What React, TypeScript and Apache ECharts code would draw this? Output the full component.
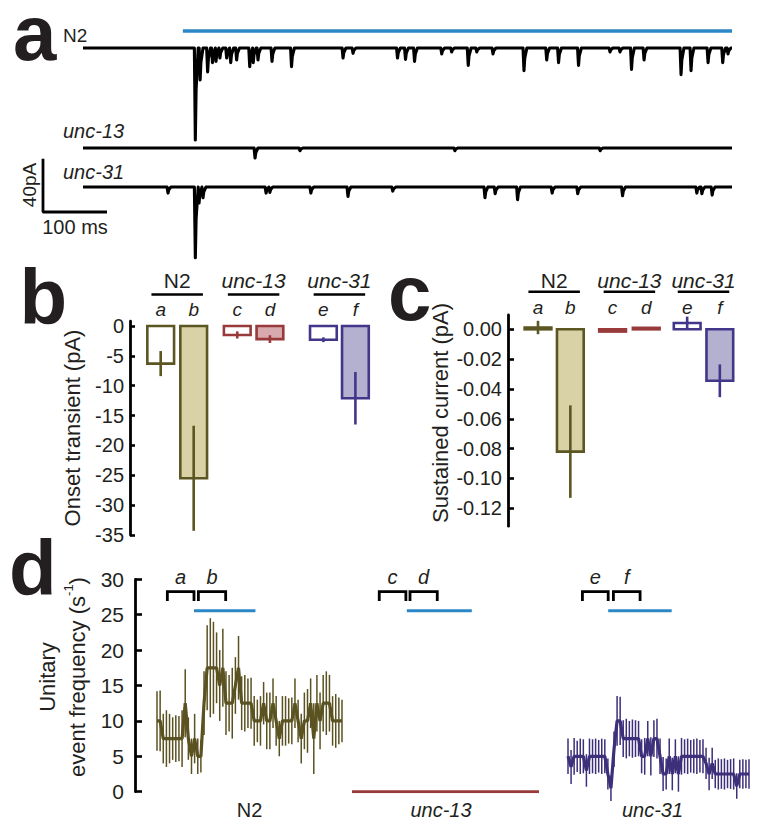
import React, { useEffect, useRef } from 'react';
import * as echarts from 'echarts';

// ---------------- data ----------------
const BAR_LETTERS = ['a', 'b', 'c', 'd', 'e', 'f'];
const GENOTYPES = ['N2', 'unc-13', 'unc-31'];

// panel b: onset transient (pA)
const ONSET_MEAN = [-6.3, -25.5, -1.5, -2.2, -2.3, -12.1];
const ONSET_SEM = [2.1, 8.8, 0.6, 0.65, 0.4, 4.4];
// panel c: sustained current (pA)
const SUSTAINED_MEAN = [0.0012, -0.082, -0.0015, 0.001, 0.0042, -0.0345];
const SUSTAINED_SEM = [0.0045, 0.031, 0, 0, 0.0043, 0.011];

// panel a: recorded traces as events [time ms, amplitude pA]
const N2_EVENTS = [
  [175.5, -69], [183, -24], [194.7, -18], [202.3, -11], [207.8, -10], [213.9, -7.5], [224.5, -7.5],
  [230.8, -11], [240, -9], [260.5, -14], [266, -11], [273.4, -9], [295.3, -10], [325.8, -14],
  [406.3, -7.5], [421.9, -4], [491.4, -7.5], [503.9, -8.5], [518, -10], [560.5, -4.5], [576, -3],
  [601.9, -13], [615.2, -3], [640.6, -4.5], [689, -17], [724.5, -9], [743, -11], [774.2, -13],
  [823.4, -3], [839, -3], [857, -16], [876.6, -9], [934.4, -20], [950, -17], [976.6, -11],
  [999.5, -11], [1007.8, -4.5],
];
const UNC13_EVENTS = [[268.8, -7.5], [339, -2], [581, -2], [808, -2]];
const UNC31_EVENTS = [
  [132.8, -4.5], [175.5, -53], [181.3, -12], [187.5, -8], [286, -4.5], [292, -4], [356, -4.5],
  [414, -7], [484, -3], [628, -8], [644, -5], [679, -9.5], [733, -4.5], [773, -5], [843, -6.5],
  [959, -4.5], [967, -5], [983, -6],
];
const TRACE_END_MS = 1014;
const STIM_A_MS = [156, 1014];

// panel d: unitary event frequency (s^-1), 60 bins each
const N2_FREQ = [
  10, 10, 7.5, 7.5, 7.5, 7.5, 7.5, 7.5, 7.5, 12.5,
  7.5, 5, 7.5, 5, 5, 12.5, 17.5, 17.5, 17.5, 17.5,
  15, 17.5, 12.5, 12.5, 12.5, 15, 17.5, 12.5, 12.5, 12.5,
  12.5, 10, 10, 10, 12.5, 10, 10, 12.5, 10, 7.5,
  10, 10, 10, 10, 12.5, 10, 7.5, 10, 10, 12.5,
  7.5, 12.5, 10, 12.5, 12.5, 12.5, 10, 10, 10, 10,
];
const N2_ERR = [
  4.2, 4.3, 3.5, 4, 3.5, 3, 3.3, 3.2, 4, 4.8,
  3, 2.5, 3.5, 2.5, 2.3, 4.5, 6, 7, 6.5, 5,
  5, 5.5, 4.5, 4, 5, 4, 4.5, 3.8, 4, 3.5,
  3.6, 3.5, 3, 3.5, 3, 4, 4, 3.5, 3.5, 2.5,
  3.5, 3.5, 3.2, 3.3, 3.5, 3, 3.5, 4, 4.5, 3.5,
  5, 4, 4, 4, 4.5, 4, 3.5, 3.8, 3.3, 3,
];
const UNC13_FREQ = [
  0, 0, 0, 0, 0, 0, 0, 0, 0, 0,
  0, 0, 0, 0, 0, 0, 0, 0, 0, 0,
  0, 0, 0, 0, 0, 0, 0, 0, 0, 0,
  0, 0, 0, 0, 0, 0, 0, 0, 0, 0,
  0, 0, 0, 0, 0, 0, 0, 0, 0, 0,
  0, 0, 0, 0, 0, 0, 0, 0, 0, 0,
];
const UNC31_FREQ = [
  5, 3.5, 5, 5, 5, 5, 3, 5, 5, 5,
  5, 5, 5, 2.5, 0.5, 6, 10, 10, 7.5, 7.5,
  7.5, 7.5, 7.5, 7.5, 5, 5, 7.5, 5, 7.5, 7.5,
  5, 2.5, 2.5, 5, 2.5, 5, 2.5, 5, 5, 5,
  5, 5, 5, 5, 5, 4, 2.5, 4, 2.5, 2.5,
  2.5, 2.5, 2.5, 2.5, 2.5, 0.8, 2.5, 2.5, 2.5, 2.5,
];
const UNC31_ERR = [
  2.5, 2.4, 2.6, 2.2, 2.5, 2.4, 2.3, 2.5, 2.4, 2.5,
  2.3, 2.5, 2.4, 2.2, 1.8, 2.5, 3.5, 3.4, 2.6, 2.8,
  2.5, 2.7, 2.6, 2.5, 2.4, 2.6, 2.5, 2.7, 2.6, 2.8,
  2.5, 2.4, 2.2, 2.5, 2.3, 2.4, 2.5, 2.6, 2.4, 2.5,
  2.3, 2.4, 2.5, 2.3, 2.4, 2.2, 2.3, 2.2, 2.0, 2.2,
  2.1, 2.2, 2.0, 2.1, 2.2, 1.8, 2.0, 2.1, 2.0, 2.1,
];
// analysis windows (bin ranges) and stimulus bins for panel d
const N2_WINDOWS = [[3.3, 11.8], [13.2, 21.9]];
const UNC13_WINDOWS = [[8.6, 17.0], [18.3, 26.9]];
const UNC31_WINDOWS = [[4.7, 13.1], [14.8, 23.5]];
const N2_STIM = [11.8, 31.4];
const UNC13_STIM = [17.3, 37.8];
const UNC31_STIM = [13.1, 33.8];

// ---------------- style / layout ----------------
const FONT = '"Liberation Sans", Arial, Helvetica, sans-serif';
const INK = '#231f20';
const BLUE = '#2c87c7';
const OLIVE = '#5b5622';
const OLIVE_FILL = '#d9d2a6';
const RED = '#983a3a';
const RED_FILL = '#d8aaae';
const PURPLE = '#41368a';
const PURPLE_FILL = '#b4b1d0';
const D_N2 = '#5a5220';
const D_31 = '#3d2f7a';

const BAR_STROKE = [OLIVE, OLIVE, RED, RED, PURPLE, PURPLE];
const BAR_FILL = ['#ffffff', OLIVE_FILL, '#ffffff', RED_FILL, '#ffffff', PURPLE_FILL];
const SLOTS_B = [0, 1, 2.32, 3.31, 4.93, 5.9];
const SLOTS_C = [0, 0.98, 2.26, 3.28, 4.52, 5.51];
const TRACE_OFFSETS = [0, -75, -104.3];

function buildTrace(events: number[][], offset: number) {
  const pts: number[][] = [[0, offset]];
  for (const [t, a] of events) {
    pts.push([t - 1.5, offset], [t, offset + a], [t + 1.2, offset + a * 0.45], [t + 4.5, offset]);
  }
  pts.push([TRACE_END_MS, offset]);
  return pts;
}

function barSeries(axisIdx: number, slots: number[], mean: number[], sem: number[], letterOff: number) {
  return {
    type: 'custom',
    coordinateSystem: 'cartesian2d',
    xAxisIndex: axisIdx,
    yAxisIndex: axisIdx,
    silent: true,
    data: slots.map((s, i) => [s, mean[i], sem[i]]),
    renderItem: (params: any, api: any) => {
      const i = params.dataIndex;
      const x = api.value(0);
      const v = api.value(1);
      const e = api.value(2);
      const hw = 0.405;
      const p0 = api.coord([x - hw, 0]);
      const p1 = api.coord([x + hw, v]);
      const c0 = api.coord([x, 0]);
      const children: any[] = [
        {
          type: 'rect',
          shape: { x: p0[0], y: Math.min(p0[1], p1[1]), width: p1[0] - p0[0], height: Math.max(Math.abs(p1[1] - p0[1]), 0.5) },
          style: { fill: BAR_FILL[i], stroke: BAR_STROKE[i], lineWidth: 2.6 },
        },
        {
          type: 'text',
          x: c0[0],
          y: c0[1] - letterOff,
          style: { text: BAR_LETTERS[i], fill: INK, fontSize: 19, fontStyle: 'italic', fontFamily: FONT, align: 'center', verticalAlign: 'middle' },
        },
      ];
      if (e > 0) {
        const a = api.coord([x, v + e]);
        const b = api.coord([x, v - e]);
        children.push({ type: 'line', shape: { x1: a[0], y1: a[1], x2: b[0], y2: b[1] }, style: { stroke: BAR_STROKE[i], lineWidth: 2.6 } });
      }
      return { type: 'group', children };
    },
  };
}

function headerSeries(axisIdx: number, slots: number[], lineOff: number, textOff: number) {
  return {
    type: 'custom',
    coordinateSystem: 'cartesian2d',
    xAxisIndex: axisIdx,
    yAxisIndex: axisIdx,
    silent: true,
    data: GENOTYPES.map((g, k) => [(slots[2 * k] + slots[2 * k + 1]) / 2, 0]),
    renderItem: (params: any, api: any) => {
      const k = params.dataIndex;
      const c = api.value(0);
      const p0 = api.coord([c - 0.78, 0]);
      const p1 = api.coord([c + 0.78, 0]);
      return {
        type: 'group',
        children: [
          { type: 'line', shape: { x1: p0[0], y1: p0[1] - lineOff, x2: p1[0], y2: p1[1] - lineOff }, style: { stroke: '#000', lineWidth: 2.6 } },
          {
            type: 'text',
            x: (p0[0] + p1[0]) / 2,
            y: p0[1] - textOff,
            style: { text: GENOTYPES[k], fill: INK, fontSize: 21, fontStyle: k === 0 ? 'normal' : 'italic', fontFamily: FONT, align: 'center', verticalAlign: 'middle' },
          },
        ],
      };
    },
  };
}

function bracketSeries(axisIdx: number, windows: number[][], letters: string[]) {
  return {
    type: 'custom',
    coordinateSystem: 'cartesian2d',
    xAxisIndex: axisIdx,
    yAxisIndex: axisIdx,
    silent: true,
    data: windows.map((w) => [w[0], w[1]]),
    renderItem: (params: any, api: any) => {
      const s = api.value(0);
      const e = api.value(1);
      const tl = api.coord([s, 28.25]);
      const tr = api.coord([e, 28.25]);
      const legY = api.coord([s, 26.95])[1];
      return {
        type: 'group',
        children: [
          { type: 'polyline', shape: { points: [[tl[0], legY], [tl[0], tl[1]], [tr[0], tr[1]], [tr[0], legY]] }, style: { stroke: '#000', lineWidth: 2.8, fill: 'none' } },
          {
            type: 'text',
            x: (tl[0] + tr[0]) / 2,
            y: tl[1] - 15,
            style: { text: letters[params.dataIndex], fill: INK, fontSize: 20, fontStyle: 'italic', fontFamily: FONT, align: 'center', verticalAlign: 'middle' },
          },
        ],
      };
    },
  };
}

function errSeries(axisIdx: number, vals: number[], errs: number[], color: string) {
  return {
    type: 'custom',
    coordinateSystem: 'cartesian2d',
    xAxisIndex: axisIdx,
    yAxisIndex: axisIdx,
    silent: true,
    z: 1,
    data: vals.map((v, i) => [i, v, errs[i]]),
    renderItem: (params: any, api: any) => {
      const x = api.value(0);
      const v = api.value(1);
      const e = api.value(2);
      const a = api.coord([x, v + e]);
      const b = api.coord([x, v - e]);
      return { type: 'line', shape: { x1: a[0], y1: a[1], x2: b[0], y2: b[1] }, style: { stroke: color, lineWidth: 1.5 } };
    },
  };
}

function freqLine(axisIdx: number, vals: number[], color: string, width: number) {
  return {
    type: 'line',
    xAxisIndex: axisIdx,
    yAxisIndex: axisIdx,
    silent: true,
    z: 3,
    showSymbol: false,
    data: vals.map((v, i) => [i, v]),
    lineStyle: { color, width },
  };
}

function stimLine(axisIdx: number, range: number[], y: number, width: number) {
  return {
    type: 'line',
    xAxisIndex: axisIdx,
    yAxisIndex: axisIdx,
    silent: true,
    showSymbol: false,
    data: [[range[0], y], [range[1], y]],
    lineStyle: { color: BLUE, width },
  };
}

const hiddenAxis = (gridIndex: number, min: number, max: number) => ({
  gridIndex, type: 'value', min, max, show: false,
});

const lineOnlyY = (gridIndex: number, min: number, max: number) => ({
  gridIndex, type: 'value', min, max,
  axisLine: { show: true, onZero: false, lineStyle: { color: '#000', width: 2.8 } },
  axisTick: { show: false }, axisLabel: { show: false }, splitLine: { show: false },
});

const tickY = (gridIndex: number, min: number, max: number, interval: number, margin: number, len: number, fmt?: (v: number) => string) => ({
  gridIndex, type: 'value', min, max, interval,
  axisLine: { show: false, onZero: false },
  axisTick: { show: true, inside: true, length: len, lineStyle: { color: '#000', width: 2.6 } },
  axisLabel: { fontSize: 20, color: INK, fontFamily: FONT, margin, formatter: fmt },
  splitLine: { show: false },
});

const dX = (gridIndex: number, name: string, italic: boolean, pad: number) => ({
  gridIndex, type: 'value', min: 0, max: 59,
  axisLine: { show: false, onZero: false }, axisTick: { show: false }, axisLabel: { show: false }, splitLine: { show: false },
  name, nameLocation: 'middle', nameGap: 8,
  nameTextStyle: { fontSize: 20, color: INK, fontFamily: FONT, fontStyle: italic ? 'italic' : 'normal', padding: [0, pad, 0, 0] },
});

const txt = (text: string, x: number, y: number, size: number, opts: any = {}) => ({
  type: 'text', x, y, rotation: opts.rotation || 0, silent: true,
  style: {
    text, fill: INK, fontSize: size, fontFamily: FONT,
    fontStyle: opts.italic ? 'italic' : 'normal', fontWeight: opts.bold ? 'bold' : 'normal',
    align: opts.align || 'left', verticalAlign: 'middle', lineHeight: opts.lineHeight,
  },
});

function buildOption() {
  return {
    animation: false,
    backgroundColor: '#ffffff',
    grid: [
      { left: 43, top: 20, width: 689, height: 240 },
      { left: 130, top: 321.2, width: 245, height: 213.8 },
      { left: 130, top: 326, width: 245, height: 209 },
      { left: 508, top: 315, width: 235, height: 211.2 },
      { left: 508, top: 329.3, width: 235, height: 179 },
      { left: 157, top: 579.3, width: 185, height: 212.4 },
      { left: 352, top: 579.3, width: 187, height: 212.4 },
      { left: 568, top: 579.3, width: 181, height: 212.4 },
    ],
    xAxis: [
      hiddenAxis(0, -62.5, TRACE_END_MS),
      hiddenAxis(1, -0.93, 6.494),
      hiddenAxis(2, -0.93, 6.494),
      hiddenAxis(3, -0.909, 6.212),
      hiddenAxis(4, -0.909, 6.212),
      dX(5, GENOTYPES[0], false, 0),
      dX(6, GENOTYPES[1], true, 9),
      dX(7, GENOTYPES[2], true, 12),
    ],
    yAxis: [
      hiddenAxis(0, -159, 21),
      lineOnlyY(1, -35, 0.8),
      tickY(2, -35, 0, 5, 6, 5),
      lineOnlyY(3, -0.132, 0.0096),
      tickY(4, -0.12, 0, 0.02, 6, 6, (v: number) => v.toFixed(2)),
      {
        gridIndex: 5, type: 'value', min: 0, max: 30, interval: 5, offset: 22,
        axisLine: { show: true, onZero: false, lineStyle: { color: '#000', width: 2.8 } },
        axisTick: { show: true, inside: true, length: 7, lineStyle: { color: '#000', width: 2.6 } },
        axisLabel: { fontSize: 21, color: INK, fontFamily: FONT, margin: 11 },
        splitLine: { show: false },
      },
      hiddenAxis(6, 0, 30),
      hiddenAxis(7, 0, 30),
    ],
    series: [
      // panel a
      ...[N2_EVENTS, UNC13_EVENTS, UNC31_EVENTS].map((ev, k) => ({
        type: 'line', xAxisIndex: 0, yAxisIndex: 0, silent: true, showSymbol: false,
        data: buildTrace(ev, TRACE_OFFSETS[k]),
        lineStyle: { color: '#000', width: 3.1, join: 'round' },
      })),
      stimLine(0, STIM_A_MS, 12.75, 3.5),
      {
        type: 'line', xAxisIndex: 0, yAxisIndex: 0, silent: true, showSymbol: false,
        data: [[-62.5, -83], [-62.5, -123], [37.5, -123]],
        lineStyle: { color: '#000', width: 2.8 },
      },
      // panel b
      barSeries(1, SLOTS_B, ONSET_MEAN, ONSET_SEM, 16.5),
      headerSeries(1, SLOTS_B, 31.5, 45.5),
      // panel c
      barSeries(3, SLOTS_C, SUSTAINED_MEAN, SUSTAINED_SEM, 22),
      headerSeries(3, SLOTS_C, 37.6, 48.5),
      // panel d
      errSeries(5, N2_FREQ, N2_ERR, D_N2),
      freqLine(5, N2_FREQ, D_N2, 3.2),
      bracketSeries(5, N2_WINDOWS, ['a', 'b']),
      stimLine(5, N2_STIM, 25.56, 3),
      freqLine(6, UNC13_FREQ, RED, 3),
      bracketSeries(6, UNC13_WINDOWS, ['c', 'd']),
      stimLine(6, UNC13_STIM, 25.56, 3),
      errSeries(7, UNC31_FREQ, UNC31_ERR, D_31),
      freqLine(7, UNC31_FREQ, D_31, 3.2),
      bracketSeries(7, UNC31_WINDOWS, ['e', 'f']),
      stimLine(7, UNC31_STIM, 25.56, 3),
    ],
    graphic: [
      txt('a', 13, 33, 78, { bold: true, lineHeight: 60 }),
      txt('b', 19.5, 297, 78, { bold: true, lineHeight: 60 }),
      txt('c', 388, 292.5, 78, { bold: true, lineHeight: 60 }),
      txt('d', 9, 567.7, 78, { bold: true, lineHeight: 60 }),
      txt(GENOTYPES[0], 63, 35.5, 19),
      txt(GENOTYPES[1], 63, 130.5, 20, { italic: true }),
      txt(GENOTYPES[2], 63, 171.5, 20, { italic: true }),
      txt('40pA', 29, 185, 19, { align: 'center', rotation: Math.PI / 2 }),
      txt('100 ms', 75, 226.5, 20, { align: 'center' }),
      txt('Onset transient (pA)', 72, 428, 22, { align: 'center', rotation: Math.PI / 2 }),
      txt('Sustained current (pA)', 440, 413, 22, { align: 'center', rotation: Math.PI / 2 }),
      txt('Unitary', 47, 677, 22, { align: 'center', rotation: Math.PI / 2 }),
      {
        type: 'text', x: 75, y: 677, rotation: Math.PI / 2, silent: true,
        style: {
          text: '{n|event frequency (s}{s|-1}{n|)}',
          align: 'center', verticalAlign: 'middle',
          rich: {
            n: { fontSize: 22, fontFamily: FONT, fill: INK, lineHeight: 26, verticalAlign: 'bottom' },
            s: { fontSize: 13, fontFamily: FONT, fill: INK, lineHeight: 26, verticalAlign: 'top' },
          },
        },
      },
    ],
  };
}

export default function App() {
  const ref = useRef<HTMLDivElement>(null);
  useEffect(() => {
    if (!ref.current) return;
    const chart = echarts.init(ref.current, undefined, { renderer: 'svg', width: 764, height: 835 });
    chart.setOption(buildOption() as any);
    return () => chart.dispose();
  }, []);
  return (
    <div
      ref={ref}
      style={{ position: 'absolute', left: 0, top: 0, width: 764, height: 835, background: '#ffffff' }}
    />
  );
}
